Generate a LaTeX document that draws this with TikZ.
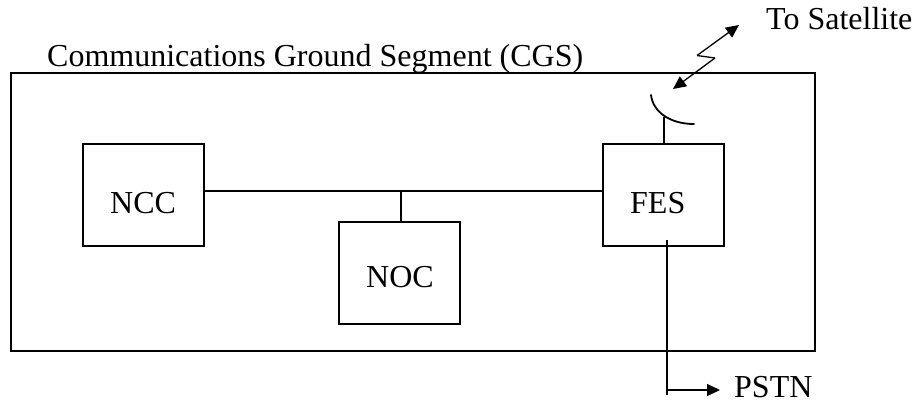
\documentclass[tikz,border=0pt]{standalone}
\usepackage{fontspec}
\setmainfont{Liberation Serif}
\usetikzlibrary{arrows.meta,calc}
\tikzset{
  unitbox/.style={draw=black,line width=1.6pt,minimum width=121pt,minimum height=102pt,inner sep=0pt},
  wire/.style={draw=black,line width=1.8pt},
  tip/.style={-{Triangle[length=13pt,width=12pt]}},
  label/.style={inner sep=0pt,font=\fontsize{32}{34}\selectfont,anchor=base west}
}
\begin{document}
\begin{tikzpicture}[x=1pt,y=-1pt]
\useasboundingbox (0,0) rectangle (916,400);
\node[draw=black,line width=1.3pt,minimum width=804pt,minimum height=278pt,inner sep=0pt] (cgs) at (413,212) {};
\node[unitbox] (ncc) at (143.5,195) {};
\node[unitbox] (noc) at (399.5,273) {};
\node[unitbox] (fes) at (663.5,195) {};
\node[label] (ncct) at (110,213) {NCC};
\node[label] (noct) at (366,287) {NOC};
\node[label] (fest) at (630,213) {FES};
\node[label] (title) at (47,66) {Communications Ground Segment (CGS)};
\node[label] (sat) at (766,29) {To Satellite};
\node[label] (pstn) at (734,397) {PSTN};
\coordinate (dish) at (664,117);
\coordinate (nocstem) at (401,191);
\coordinate (satA) at (739,25);
\coordinate (satB) at (697,55.5);
\coordinate (satC) at (715,58);
\coordinate (satD) at (673,89);
\coordinate (pstnTop) at (667,240);
\coordinate (pstnCorner) at (667,390);
\coordinate (pstnEnd) at (667,395);
\coordinate (pstnTip) at (720,390);
\draw[wire] (ncc.east |- nocstem) -- (fes.west |- nocstem);
\draw[wire] (nocstem) -- (nocstem |- noc.north);
\draw[wire] (dish |- fes.north) -- (dish);
\draw[wire,line cap=round] (651,95) .. controls (653,112) and (670,124) .. (694,124);
\draw[line width=1.3pt,tip] (satB) -- (satA);
\draw[line width=1.3pt] (satB) -- (satC);
\draw[line width=1.3pt,tip] (satC) -- (satD);
\draw[wire] (pstnTop) -- (pstnEnd);
\draw[line width=1.3pt,tip] (pstnCorner) -- (pstnTip);
\end{tikzpicture}
\end{document}
